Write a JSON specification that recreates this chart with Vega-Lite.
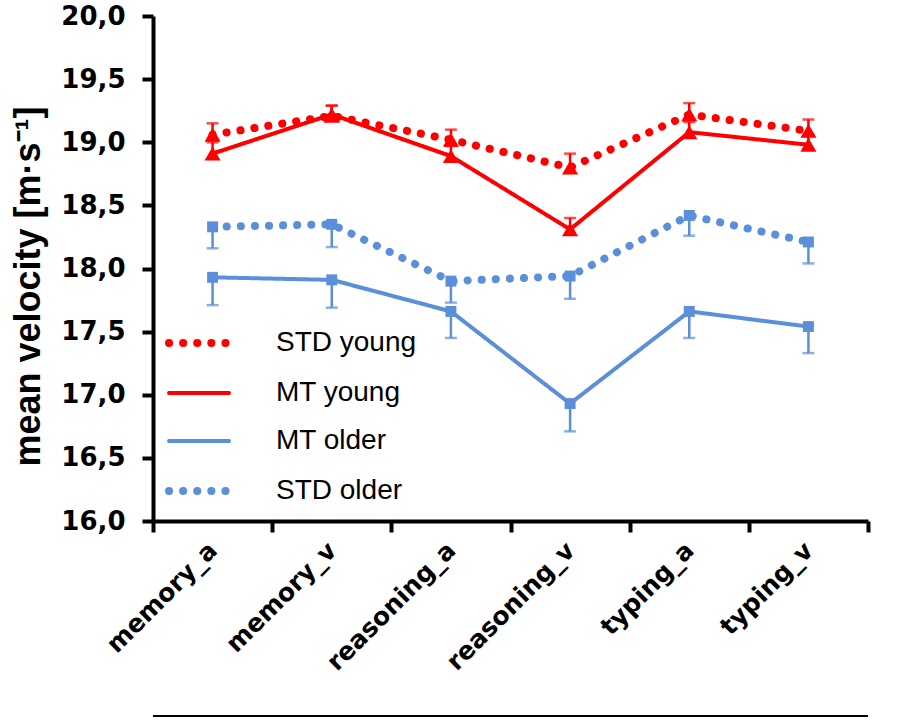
{
  "$schema": "https://vega.github.io/schema/vega-lite/v6.json",
  "width": 715,
  "height": 505,
  "autosize": {"type": "none"},
  "padding": {"left": 153, "top": 16, "right": 36, "bottom": 200},
  "background": "white",
  "config": {
    "locale": {"number": {"decimal": ",", "thousands": ".", "grouping": [3], "currency": ["", " €"]}},
    "view": {"stroke": null},
    "font": "Liberation Sans"
  },
  "data": {
    "values": [
      {"task": "memory_a", "series": "STD young", "v": 19.06, "e": 19.15},
      {"task": "memory_v", "series": "STD young", "v": 19.21, "e": 19.29},
      {"task": "reasoning_a", "series": "STD young", "v": 19.02, "e": 19.10},
      {"task": "reasoning_v", "series": "STD young", "v": 18.80, "e": 18.91},
      {"task": "typing_a", "series": "STD young", "v": 19.22, "e": 19.31},
      {"task": "typing_v", "series": "STD young", "v": 19.09, "e": 19.18},
      {"task": "memory_a", "series": "MT young", "v": 18.91, "e": 19.00},
      {"task": "memory_v", "series": "MT young", "v": 19.22, "e": 19.29},
      {"task": "reasoning_a", "series": "MT young", "v": 18.89, "e": 18.97},
      {"task": "reasoning_v", "series": "MT young", "v": 18.31, "e": 18.40},
      {"task": "typing_a", "series": "MT young", "v": 19.08, "e": 19.16},
      {"task": "typing_v", "series": "MT young", "v": 18.98, "e": 19.06},
      {"task": "memory_a", "series": "MT older", "v": 17.93, "e": 17.71},
      {"task": "memory_v", "series": "MT older", "v": 17.91, "e": 17.69},
      {"task": "reasoning_a", "series": "MT older", "v": 17.66, "e": 17.45},
      {"task": "reasoning_v", "series": "MT older", "v": 16.93, "e": 16.71},
      {"task": "typing_a", "series": "MT older", "v": 17.66, "e": 17.45},
      {"task": "typing_v", "series": "MT older", "v": 17.54, "e": 17.33},
      {"task": "memory_a", "series": "STD older", "v": 18.33, "e": 18.16},
      {"task": "memory_v", "series": "STD older", "v": 18.35, "e": 18.17},
      {"task": "reasoning_a", "series": "STD older", "v": 17.90, "e": 17.73},
      {"task": "reasoning_v", "series": "STD older", "v": 17.94, "e": 17.76},
      {"task": "typing_a", "series": "STD older", "v": 18.42, "e": 18.26},
      {"task": "typing_v", "series": "STD older", "v": 18.21, "e": 18.04}
    ]
  },
  "encoding": {
    "x": {
      "field": "task",
      "type": "nominal",
      "sort": ["memory_a", "memory_v", "reasoning_a", "reasoning_v", "typing_a", "typing_v"],
      "scale": {"type": "band", "paddingInner": 0, "paddingOuter": 0},
      "axis": {
        "title": null,
        "tickBand": "extent",
        "labelAngle": -45,
        "labelAlign": "right",
        "labelBaseline": "middle",
        "labelFont": "DejaVu Sans",
        "labelFontSize": 25,
        "labelFontWeight": "bold",
        "labelColor": "black",
        "labelPadding": 14,
        "domainColor": "black",
        "domainWidth": 4,
        "tickColor": "black",
        "tickWidth": 4,
        "tickSize": 11,
        "grid": false
      }
    },
    "color": {
      "field": "series",
      "type": "nominal",
      "scale": {
        "domain": ["STD young", "MT young", "MT older", "STD older"],
        "range": ["#ff0000", "#ff0000", "#5b8fd9", "#5b8fd9"]
      },
      "legend": {
        "orient": "none",
        "legendX": 32,
        "legendY": 313,
        "padding": 0,
        "title": null,
        "symbolType": "stroke",
        "symbolSize": 3600,
        "symbolStrokeWidth": 4,
        "labelFontSize": 28,
        "labelFont": "Liberation Sans",
        "labelColor": "black",
        "labelOffset": 63,
        "rowPadding": 20,
        "encode": {
          "symbols": {
            "update": {
              "strokeCap": {"value": "round"},
              "strokeWidth": {"signal": "test(/STD/, datum.value) ? 8 : 4"}
            }
          }
        }
      }
    }
  },
  "layer": [
    {
      "mark": {"type": "rule", "strokeWidth": 2.5},
      "encoding": {
        "y": {
          "field": "v",
          "type": "quantitative",
          "scale": {"domain": [16, 20], "nice": false, "zero": false},
          "axis": {
            "title": "mean velocity [m·s⁻¹]",
            "values": [16, 16.5, 17, 17.5, 18, 18.5, 19, 19.5, 20],
            "format": ".1f",
            "grid": false,
            "domainColor": "black",
            "domainWidth": 4,
            "tickColor": "black",
            "tickWidth": 4,
            "tickSize": 11,
            "labelFont": "DejaVu Sans",
            "labelFontSize": 26,
            "labelFontWeight": "bold",
            "labelColor": "black",
            "labelPadding": 17,
            "titleFont": "Liberation Sans",
            "titleFontSize": 36,
            "titleFontWeight": "bold",
            "titleColor": "black",
            "titlePadding": 13,
            "titleY": 270
          }
        },
        "y2": {"field": "e"}
      }
    },
    {
      "mark": {"type": "tick", "thickness": 2.5, "size": 12},
      "encoding": {
        "y": {"field": "e", "type": "quantitative"}
      }
    },
    {
      "transform": [{"filter": "test(/MT/, datum.series)"}],
      "mark": {"type": "line", "strokeCap": "round", "strokeJoin": "round", "strokeWidth": 4},
      "encoding": {
        "y": {"field": "v", "type": "quantitative"},
        "strokeDash": {
          "field": "series",
          "type": "nominal",
          "scale": {
            "domain": ["STD young", "MT young", "MT older", "STD older"],
            "range": [[0.1, 14], [1, 0], [1, 0], [0.1, 14]]
          }
        }
      }
    },
    {
      "transform": [{"filter": "test(/STD/, datum.series)"}],
      "mark": {"type": "line", "strokeCap": "round", "strokeJoin": "round", "strokeWidth": 8},
      "encoding": {
        "y": {"field": "v", "type": "quantitative"},
        "strokeDash": {"field": "series", "type": "nominal"}
      }
    },
    {
      "transform": [{"filter": "test(/young/, datum.series)"}],
      "mark": {"type": "point", "filled": true, "opacity": 1, "size": 260, "shape": "triangle-up"},
      "encoding": {
        "y": {"field": "v", "type": "quantitative"}
      }
    },
    {
      "transform": [{"filter": "test(/older/, datum.series)"}],
      "mark": {"type": "point", "filled": true, "opacity": 1, "size": 120, "shape": "square"},
      "encoding": {
        "y": {"field": "v", "type": "quantitative"}
      }
    },
    {
      "mark": {"type": "rule", "strokeWidth": 2, "color": "black"},
      "encoding": {"x": null, "color": null, "y": {"datum": 14.455, "type": "quantitative"}}
    }
  ]
}
